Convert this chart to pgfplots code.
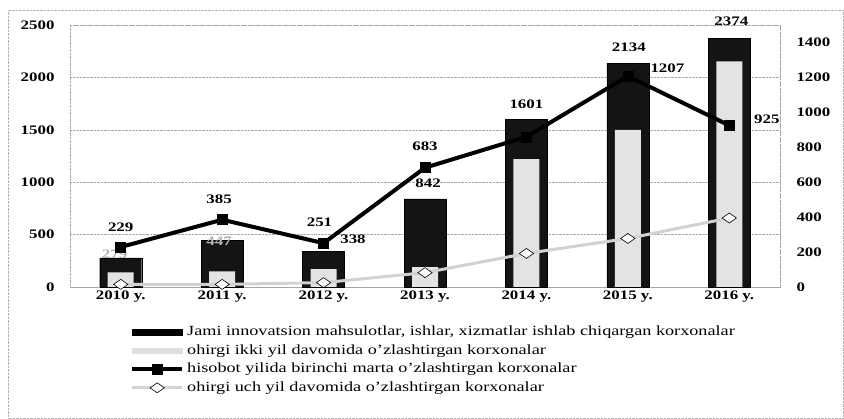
\documentclass[border=0pt]{standalone}
\usepackage{fontspec}
\setmainfont{Liberation Serif}[FakeStretch=1.3]
\usepackage{pgfplots}
\pgfplotsset{compat=1.18}

\pgfplotstableread{
x jami ikki
0 279 140
1 447 150
2 338 170
3 842 190
4 1601 1221
5 2134 1500
6 2374 2153
}\bars
\pgfplotstableread{
x hisobot uch
0 229 15
1 385 15
2 251 25
3 683 82
4 860 192
5 1207 278
6 925 395
}\lines

\begin{document}
\begin{tikzpicture}
\path[use as bounding box] (0pt,0pt) rectangle (844pt,419pt);
\draw[gray!60, densely dotted] (8pt,1pt) rectangle (843pt,409pt);
\begin{axis}[
  at={(70pt,132pt)}, anchor=south west,
  scale only axis, width=710pt, height=262pt,
  xmin=-0.5, xmax=6.5, ymin=0, ymax=2500,
  xtick={0,...,6},
  xticklabels={2010 y.,2011 y.,2012 y.,2013 y.,2014 y.,2015 y.,2016 y.},
  ytick={0,500,...,2500},
  ymajorgrids, grid style={densely dotted, gray!70},
  axis line style={densely dotted, gray!70},
  major tick length=0pt,
  tick label style={font=\bfseries\fontsize{13}{15}\selectfont},
  /pgf/number format/assume math mode=true,
  /pgf/number format/1000 sep={},
  yticklabel style={xshift=-12pt},
  clip=false,
]
\addplot[ybar, bar width=42pt, bar shift=0pt, fill=black!92, draw=black] table[x=x,y=jami] {\bars};
\addplot[ybar, bar width=26pt, bar shift=0pt, fill=gray!22, draw=none] table[x=x,y=ikki] {\bars};
\end{axis}
\begin{axis}[
  at={(70pt,132pt)}, anchor=south west,
  scale only axis, width=710pt, height=262pt,
  xmin=-0.5, xmax=6.5, ymin=0, ymax=1500,
  axis x line=none, axis y line*=right,
  ytick={0,200,...,1400},
  axis line style={-, densely dotted, gray!70},
  major tick length=0pt,
  tick label style={font=\bfseries\fontsize{13}{15}\selectfont},
  /pgf/number format/assume math mode=true,
  /pgf/number format/1000 sep={},
  yticklabel style={xshift=13pt},
  clip=false,
  legend image code/.code={\draw[mark repeat=2,mark phase=2,#1] plot coordinates {(0pt,0pt) (25pt,0pt) (50pt,0pt)};},
  legend style={at={(0.0845,-0.137)}, anchor=north west, draw=none, fill=none, inner sep=0pt,
    font=\fontsize{14}{16}\selectfont, row sep=0pt,
    nodes={inner sep=3pt, text height=9.5pt, text depth=3pt}},
  legend cell align=left,
]
\addlegendimage{legend image code/.code={\fill[black] (0pt,-3pt) rectangle (50pt,3pt);}}
\addlegendentry{Jami innovatsion mahsulotlar, ishlar, xizmatlar ishlab chiqargan korxonalar}
\addlegendimage{legend image code/.code={\fill[gray!25] (0pt,-2.5pt) rectangle (50pt,2.5pt);}}
\addlegendentry{ohirgi ikki yil davomida o\textquoteright zlashtirgan korxonalar}
\addplot[black, line width=4pt, mark=square*, mark size=5pt, mark options={line width=0.5pt, fill=black}] table[x=x,y=hisobot] {\lines};
\addlegendentry{hisobot yilida birinchi marta o\textquoteright zlashtirgan korxonalar}
\addplot[gray!35, line width=3pt, mark=diamond*, mark size=5pt, mark options={line width=0.6pt, draw=black, fill=white, xscale=1.9}] table[x=x,y=uch] {\lines};
\addlegendentry{ohirgi uch yil davomida o\textquoteright zlashtirgan korxonalar}

\tikzset{lbl/.style={font=\bfseries\fontsize{13}{15}\selectfont, inner sep=0pt}}
\node[lbl] at (axis cs:0.0,340) {229};
\node[lbl] at (axis cs:0.97,500) {385};
\node[lbl] at (axis cs:1.96,368) {251};
\node[lbl] at (axis cs:2.29,271) {338};
\node[lbl] at (axis cs:3.0,803) {683};
\node[lbl] at (axis cs:3.03,596) {842};
\node[lbl] at (axis cs:4.0,1049) {1601};
\node[lbl] at (axis cs:5.01,1370) {2134};
\node[lbl] at (axis cs:5.39,1250) {1207};
\node[lbl] at (axis cs:6.02,1519) {2374};
\node[lbl] at (axis cs:6.37,962) {925};
\node[lbl, text=gray!60] at (axis cs:-0.06,185) {279};
\node[lbl, text=gray!60] at (axis cs:0.97,260) {447};
\end{axis}
\end{tikzpicture}
\end{document}
